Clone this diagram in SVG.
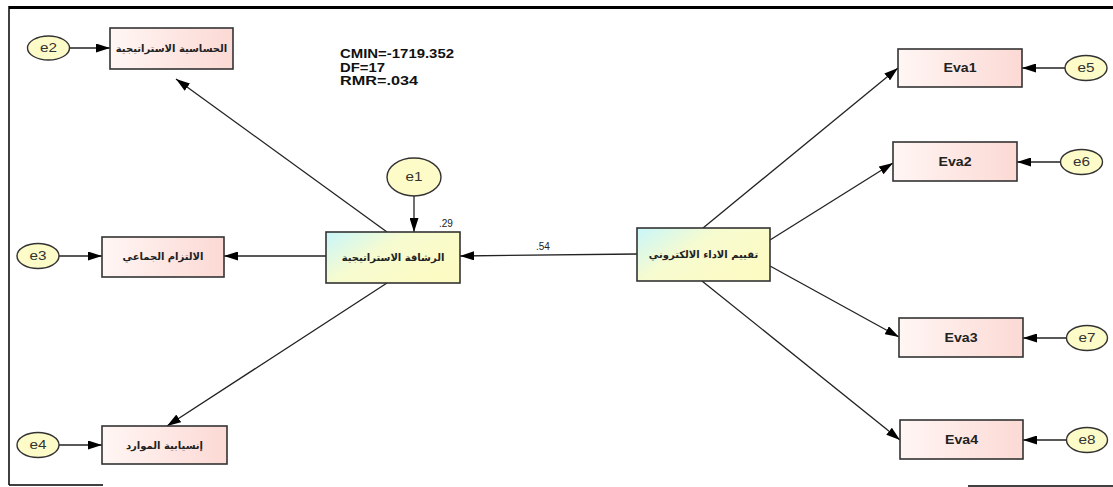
<svg xmlns="http://www.w3.org/2000/svg" width="1113" height="487" viewBox="0 0 1113 487">
<defs>
<linearGradient id="obs" x1="0" y1="0" x2="1" y2="0">
<stop offset="0" stop-color="#fff6f4"/>
<stop offset="1" stop-color="#fcd9d4"/>
</linearGradient>
<linearGradient id="lat" x1="0" y1="0" x2="1" y2="0.6">
<stop offset="0" stop-color="#c8f6fb"/>
<stop offset="0.45" stop-color="#f6fbd0"/>
<stop offset="1" stop-color="#fdfbc4"/>
</linearGradient>
<marker id="ah" markerUnits="userSpaceOnUse" markerWidth="14" markerHeight="9" refX="14" refY="4.5" orient="auto">
<path d="M0,0 L14,4.5 L0,9 z" fill="#000"/>
</marker>
<style>
.obs{fill:url(#obs);stroke:#333;stroke-width:1.6}
.lat{fill:url(#lat);stroke:#333;stroke-width:1.6}
.err{fill:#fdfbc8;stroke:#333;stroke-width:1.4}
.ar{font-family:"DejaVu Sans","Noto Sans",sans-serif;font-size:10px;font-weight:bold;fill:#222;text-anchor:middle}
.en{font-family:"Liberation Sans",Arial,sans-serif;font-size:12px;font-weight:bold;fill:#222;text-anchor:middle}
.e{font-family:"Liberation Sans",Arial,sans-serif;font-size:12px;fill:#333;text-anchor:middle}
.lbl{font-family:"Liberation Sans",Arial,sans-serif;font-size:10px;fill:#222}
.st{font-family:"Liberation Sans",Arial,sans-serif;font-size:12px;font-weight:bold;fill:#111}
.c{stroke:#222;stroke-width:1.3;fill:none;marker-end:url(#ah)}
</style>
</defs>
<rect width="1113" height="487" fill="#fff"/>
<g id="frame" stroke="#000" fill="none">
<line x1="9" y1="7.5" x2="1113" y2="7.5" stroke-width="3"/>
<line x1="9" y1="6" x2="9" y2="485" stroke-width="1.5"/>
<line x1="9" y1="485" x2="103" y2="485" stroke-width="1.5"/>
<line x1="968" y1="486" x2="1113" y2="486" stroke-width="1.5"/>
</g>
<g id="stats">
<text class="st" x="340" y="58" textLength="114" lengthAdjust="spacingAndGlyphs">CMIN=-1719.352</text>
<text class="st" x="340" y="72" textLength="45" lengthAdjust="spacingAndGlyphs">DF=17</text>
<text class="st" x="340" y="85" textLength="78" lengthAdjust="spacingAndGlyphs">RMR=.034</text>
</g>
<g id="connectors">
<line class="c" x1="69" y1="48" x2="110" y2="48"/>
<line class="c" x1="59" y1="256" x2="102" y2="256"/>
<line class="c" x1="59" y1="445" x2="102" y2="445"/>
<line class="c" x1="387" y1="232" x2="176" y2="79"/>
<line class="c" x1="326" y1="256" x2="224" y2="256"/>
<line class="c" x1="387" y1="283" x2="167" y2="426"/>
<line class="c" x1="414" y1="196" x2="414" y2="232"/>
<line class="c" x1="637" y1="254" x2="460" y2="256"/>
<line class="c" x1="703" y1="228" x2="898" y2="68"/>
<line class="c" x1="770" y1="240" x2="893" y2="163"/>
<line class="c" x1="770" y1="266" x2="899" y2="337"/>
<line class="c" x1="702" y1="281" x2="900" y2="440"/>
<line class="c" x1="1065" y1="68" x2="1022" y2="68"/>
<line class="c" x1="1061" y1="162" x2="1017" y2="162"/>
<line class="c" x1="1067" y1="338" x2="1023" y2="338"/>
<line class="c" x1="1067" y1="440" x2="1023" y2="440"/>
<text class="lbl" x="536" y="250">.54</text>
<text class="lbl" x="439" y="227">.29</text>
</g>
<g id="n_sens">
<rect class="obs" x="110" y="28" width="123" height="41"/>
<text class="ar" x="171.5" y="52" direction="rtl">الحساسية الاستراتيجية</text>
</g>
<g id="n_comm">
<rect class="obs" x="102" y="237" width="122" height="40"/>
<text class="ar" x="163" y="260" direction="rtl">الالتزام  الجماعي</text>
</g>
<g id="n_flow">
<rect class="obs" x="102" y="426" width="125" height="38"/>
<text class="ar" x="164.5" y="449" direction="rtl">إنسيابية الموارد</text>
</g>
<g id="n_agil">
<rect class="lat" x="326" y="232" width="134" height="51"/>
<text class="ar" x="393" y="261" direction="rtl">الرشاقة الاستراتيجية</text>
</g>
<g id="n_eval">
<rect class="lat" x="637" y="228" width="133" height="53"/>
<text class="ar" x="703.5" y="258" direction="rtl">تقييم الاداء الالكتروني</text>
</g>
<g id="n_eva1">
<rect class="obs" x="898" y="49" width="124" height="38"/>
<text class="en" x="960" y="72" textLength="33" lengthAdjust="spacingAndGlyphs">Eva1</text>
</g>
<g id="n_eva2">
<rect class="obs" x="893" y="142" width="124" height="39"/>
<text class="en" x="955" y="166" textLength="33" lengthAdjust="spacingAndGlyphs">Eva2</text>
</g>
<g id="n_eva3">
<rect class="obs" x="899" y="318" width="124" height="39"/>
<text class="en" x="961" y="342" textLength="33" lengthAdjust="spacingAndGlyphs">Eva3</text>
</g>
<g id="n_eva4">
<rect class="obs" x="900" y="420" width="123" height="39"/>
<text class="en" x="961.5" y="444" textLength="33" lengthAdjust="spacingAndGlyphs">Eva4</text>
</g>
<g id="n_e1"><ellipse class="err" cx="414" cy="177" rx="27" ry="19"/><text class="e" x="414" y="181" textLength="17" lengthAdjust="spacingAndGlyphs">e1</text></g>
<g id="n_e2"><ellipse class="err" cx="48.5" cy="48" rx="21" ry="12"/><text class="e" x="48.5" y="52" textLength="17" lengthAdjust="spacingAndGlyphs">e2</text></g>
<g id="n_e3"><ellipse class="err" cx="38" cy="256" rx="21" ry="12.5"/><text class="e" x="38" y="260" textLength="17" lengthAdjust="spacingAndGlyphs">e3</text></g>
<g id="n_e4"><ellipse class="err" cx="38" cy="445" rx="21" ry="12.5"/><text class="e" x="38" y="449" textLength="17" lengthAdjust="spacingAndGlyphs">e4</text></g>
<g id="n_e5"><ellipse class="err" cx="1086" cy="68" rx="21" ry="12.5"/><text class="e" x="1086" y="72" textLength="17" lengthAdjust="spacingAndGlyphs">e5</text></g>
<g id="n_e6"><ellipse class="err" cx="1081.5" cy="162" rx="21" ry="12.5"/><text class="e" x="1081.5" y="166" textLength="17" lengthAdjust="spacingAndGlyphs">e6</text></g>
<g id="n_e7"><ellipse class="err" cx="1087" cy="338" rx="20.5" ry="12.5"/><text class="e" x="1087" y="342" textLength="17" lengthAdjust="spacingAndGlyphs">e7</text></g>
<g id="n_e8"><ellipse class="err" cx="1087" cy="440" rx="20.5" ry="12.5"/><text class="e" x="1087" y="444" textLength="17" lengthAdjust="spacingAndGlyphs">e8</text></g>
</svg>
